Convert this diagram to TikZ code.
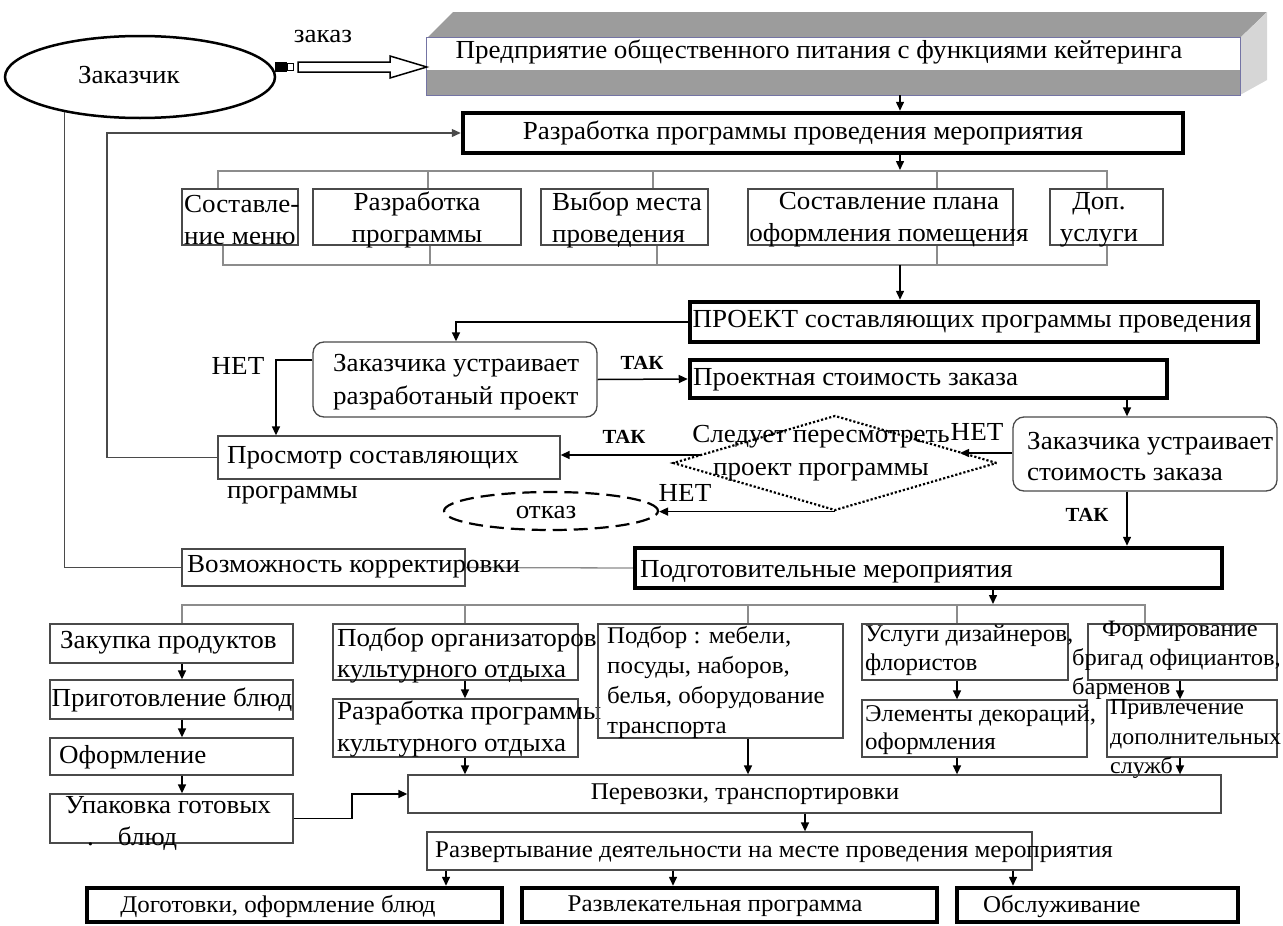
\documentclass[tikz,border=0pt]{standalone}
\usepackage{fontspec}
\setmainfont{Liberation Serif}[FakeStretch=1.04]
\newfontfamily\tnr{Liberation Serif}[FakeStretch=1.04]
\usetikzlibrary{arrows.meta,shapes.geometric,fit,calc}
\definecolor{boxc}{HTML}{4A4A4A}
\definecolor{busc}{HTML}{8C8C8C}
\definecolor{edgec}{HTML}{7474A4}
\definecolor{topc}{HTML}{9C9C9C}
\definecolor{sidec}{HTML}{D6D6D6}
\newcommand{\fsz}[1]{\tnr\fontsize{26}{#1}\selectfont}
\newcommand{\fss}[1]{\tnr\fontsize{24}{#1}\selectfont}
\begin{document}
\begin{tikzpicture}[x=1pt,y=-1pt,
  box/.style={draw=boxc,line width=1.3pt,inner sep=0pt},
  tbox/.style={draw=black,line width=4.5pt,inner sep=0pt},
  rbox/.style={box,rounded corners=11pt},
  t/.style={inner sep=0pt,font=\fsz{30}},
  ts/.style={inner sep=0pt,font=\fss{30}},
  bl/.style={inner sep=0pt,font=\tnr\fontsize{20}{22}\selectfont\bfseries},
  arr/.style={draw=black,line width=1.5pt,-{Triangle[length=9pt,width=8pt]}},
  bus/.style={draw=busc,line width=1.3pt},
  fb/.style={draw=boxc,line width=1.3pt},
]
\useasboundingbox (0,0) rectangle (1283,926);

% ---- customer and enterprise
\node[ellipse,draw,line width=2.5pt,minimum width=270pt,minimum height=82pt,inner sep=0pt] (zak) at (140,77) {};
\node[t] (zakT) at (129,75) {Заказчик};
\node[t] (orderT) at (323,37) {заказ};

\fill[topc] (427,38) -- (453,12) -- (1267,12) -- (1240,38) -- cycle;
\fill[sidec] (1240,38) -- (1267,12) -- (1267,80) -- (1240,95) -- cycle;
\node[fit={(427,38)(1240,95)},inner sep=0pt,fill=topc] (ent) {};
\fill[white] (427,38) rectangle (1240,70);
\draw[edgec,line width=1.3pt] (ent.north west) rectangle (ent.south east);
\node[t] (entT) at (819,52) {Предприятие общественного питания с функциями кейтеринга};

\fill[black] (275,62) rectangle (287,72);
\draw[line width=1pt,fill=white] (287.5,63.5) rectangle (293.5,70.5);
\draw[line width=1.5pt,fill=white,line join=miter] (298,62) -- (390,62) -- (390,56) -- (ent.west |- 0,67) -- (390,78) -- (390,72) -- (298,72) -- cycle;

% ---- development
\node[tbox,fit={(463,113)(1183,153)}] (raz) {};
\node[t] (razT) at (803,133) {Разработка программы проведения мероприятия};
\draw[arr] (ent.south -| 900,0) -- (raz.north -| 900,0);

\node[box,fit={(182,189)(298,245)}] (m1) {};
\node[box,fit={(313,189)(521,245)}] (m2) {};
\node[box,fit={(541,189)(708,245)}] (m3) {};
\node[box,fit={(748,189)(1013,245)}] (m4) {};
\node[box,fit={(1050,189)(1163,245)}] (m5) {};
\node[t,align=left,anchor=west,font=\fsz{32}] (m1T) at (184,220) {Составле-\\ние меню};
\node[t,align=center,font=\fsz{32}] (m2T) at (417,220) {Разработка\\программы};
\node[t,align=left,anchor=west,font=\fsz{32}] (m3T) at (552,220) {Выбор места\\проведения};
\node[t,align=center,font=\fsz{32}] (m4T) at (889,220) {Составление плана\\оформления помещения};
\node[t,align=center,font=\fsz{32}] (m5T) at (1099,220) {Доп.\\услуги};

\draw[arr] (raz.south -| 900,0) -- (900,170);
\draw[bus] (m1.north -| 218,0) -- (218,171) -- (1107,171) -- (m5.north -| 1107,0);
\draw[bus] (m2.north -| 428,0) -- (428,171);
\draw[bus] (m3.north -| 653,0) -- (653,171);
\draw[bus] (m4.north -| 937,0) -- (937,171);
\draw[bus] (m1.south -| 223,0) -- (223,265) -- (1107,265) -- (m5.south -| 1107,0);
\draw[bus] (m2.south -| 430,0) -- (430,265);
\draw[bus] (m3.south -| 657,0) -- (657,265);
\draw[bus] (m4.south -| 937,0) -- (937,265);

% ---- project
\node[tbox,fit={(690,302)(1258,342)}] (prj) {};
\node[t] (prjT) at (972,322) {ПРОЕКТ составляющих программы проведения};
\coordinate (busB) at (900,265);
\draw[arr] (busB) -- (prj.north -| busB);

\node[rbox,fit={(313,342)(597,417)}] (ok1) {};
\node[t,align=left,anchor=west,font=\fsz{33}] (ok1T) at (333,382) {Заказчика устраивает\\разработаный проект};
\draw[arr] (prj.west) -| (ok1.north -| 456,0);

\node[tbox,fit={(690,360)(1167,398)}] (cost) {};
\node[t,anchor=west] (costT) at (693,380) {Проектная стоимость заказа};
\draw[arr] (ok1.east) -- (cost.west);
\node[bl] (yes1) at (642,363) {ТАК};

\node[box,fit={(218,436)(560,479)}] (view) {};
\node[t,align=left,anchor=west,font=\fsz{35}] (viewT) at (227,475) {Просмотр составляющих\\программы};
\draw[arr] (ok1.west |- 0,360) -| (view.north -| 276,0);
\node[t] (no1) at (238,366) {НЕТ};

\node[rbox,fit={(1013,417)(1277,491)}] (ok2) {};
\node[t,align=left,anchor=west,font=\fsz{31}] (ok2T) at (1027,457) {Заказчика устраивает\\стоимость заказа};
\draw[arr] (cost.south -| 1127,0) -- (ok2.north -| 1127,0);

\node[diamond,draw=black,dotted,line width=2.2pt,minimum width=324pt,minimum height=95pt,inner sep=0pt] (dia) at (835,463) {};
\node[t,align=center,font=\fsz{33}] (diaT) at (821,453) {Следует пересмотреть\\проект программы};
\coordinate (diaE) at (960,453);
\coordinate (diaW) at (702,455);
\draw[arr] (ok2.west |- diaE) -- (diaE);
\node[t] (no2) at (977,432) {НЕТ};
\draw[arr] (diaW) -- (view.east |- diaW);
\node[bl] (yes2) at (624,437) {ТАК};

\node[ellipse,draw,dash pattern=on 14pt off 7pt,line width=2.2pt,minimum width=214pt,minimum height=38pt,inner sep=0pt] (otk) at (551,511) {};
\node[t] (otkT) at (546,512) {отказ};
\draw[arr] (dia.south) -- (otk.east |- dia.south);
\node[t] (no3) at (685,493) {НЕТ};

% ---- preparation
\node[tbox,fit={(635,548)(1222,588)}] (prep) {};
\node[t,anchor=west] (prepT) at (640,572) {Подготовительные мероприятия};
\draw[arr] (ok2.south -| 1127,0) -- (prep.north -| 1127,0);
\node[bl] (yes3) at (1087,515) {ТАК};

\node[box,fit={(182,549)(465,586)}] (vk) {};
\draw[bus] (vk.east) -- (prep.west);
\node[t,anchor=west] (vkT) at (187,567) {Возможность корректировки};

\draw[fb,-{Triangle[length=9pt,width=8pt]}] (view.west) -| (107,133) -- (raz.west);
\draw[fb] (zak.205) |- (vk.west);

% ---- lower boxes
\node[box,fit={(50,624)(293,663)}] (c1) {};
\node[box,fit={(50,680)(293,719)}] (c2) {};
\node[box,fit={(50,738)(293,775)}] (c3) {};
\node[box,fit={(50,794)(293,843)}] (c4) {};
\node[t,anchor=west] (c1T) at (60,643) {Закупка продуктов};
\node[t] (c2T) at (172,700) {Приготовление блюд};
\node[t,anchor=west] (c3T) at (59,757) {Оформление};
\node[t,align=left,anchor=west,font=\fsz{32}] (c4T) at (65,823) {Упаковка готовых\\\hspace*{22pt}.\hspace*{24pt}блюд};

\node[box,fit={(333,624)(578,680)}] (o1) {};
\node[box,fit={(333,699)(578,757)}] (o2) {};
\node[t,align=left,anchor=west,font=\fsz{31}] (o1T) at (337,655) {Подбор организаторов\\культурного отдыха};
\node[t,align=left,anchor=west,font=\fsz{32}] (o2T) at (337,729) {Разработка программы\\культурного отдыха};

\node[box,fit={(598,624)(843,738)}] (f1) {};
\node[ts,align=left,anchor=west,font=\fss{30}] (f1T) at (607,682) {Подбор : мебели,\\посуды, наборов,\\белья, оборудование\\транспорта};

\node[box,fit={(862,624)(1068,680)}] (d1) {};
\node[box,fit={(862,700)(1087,757)}] (d2) {};
\node[ts,align=left,anchor=west,font=\fss{29}] (d1T) at (865,650) {Услуги дизайнеров,\\флористов};
\node[ts,align=left,anchor=west,font=\fss{28}] (d2T) at (865,730) {Элементы декораций,\\оформления};

\node[box,fit={(1088,624)(1277,680)}] (s1) {};
\node[box,fit={(1107,700)(1277,757)}] (s2) {};
\node[ts,align=left,anchor=west,font=\tnr\fontsize{23.5}{29}\selectfont] (s1T) at (1072,660) {\hspace*{30pt}Формирование\\бригад официантов,\\барменов};
\node[ts,align=left,anchor=west,font=\tnr\fontsize{23}{29.5}\selectfont] (s2T) at (1110,739) {Привлечение\\дополнительных\\служб};

\draw[arr] (prep.south -| 993,0) -- (993,604);
\draw[bus] (c1.north -| 182,0) -- (182,605) -- (1145,605) -- (s1.north -| 1145,0);
\draw[bus] (o1.north -| 465,0) -- (465,605);
\draw[bus] (f1.north -| 748,0) -- (748,605);
\draw[bus] (d1.north -| 957,0) -- (957,605);

\draw[arr] (c1.south -| 182,0) -- (c2.north -| 182,0);
\draw[arr] (c2.south -| 182,0) -- (c3.north -| 182,0);
\draw[arr] (c3.south -| 182,0) -- (c4.north -| 182,0);

\node[box,fit={(408,775)(1221,813)}] (per) {};
\node[ts] (perT) at (745,794) {Перевозки, транспортировки};

\draw[arr] (c4.east) -- (352,818.5) |- (per.west);
\draw[arr] (o1.south -| 465,0) -- (o2.north -| 465,0);
\draw[arr] (o2.south -| 465,0) -- (per.north -| 465,0);
\draw[arr] (f1.south -| 748,0) -- (per.north -| 748,0);
\draw[arr] (d1.south -| 957,0) -- (d2.north -| 957,0);
\draw[arr] (d2.south -| 957,0) -- (per.north -| 957,0);
\draw[arr] (s1.south -| 1180,0) -- (s2.north -| 1180,0);
\draw[arr] (s2.south -| 1180,0) -- (per.north -| 1180,0);

\node[box,fit={(427,832)(1032,870)}] (rz) {};
\node[ts,anchor=west] (rzT) at (435,852) {Развертывание деятельности на месте проведения мероприятия};
\draw[arr] (per.south -| 805,0) -- (rz.north -| 805,0);

\node[tbox,fit={(87,888)(502,922)}] (fin1) {};
\node[tbox,fit={(522,888)(937,922)}] (fin2) {};
\node[tbox,fit={(957,888)(1238,922)}] (fin3) {};
\node[ts] (fin1T) at (278,906) {Доготовки, оформление блюд};
\node[ts] (fin2T) at (715,906) {Развлекательная программа};
\node[ts,anchor=west] (fin3T) at (983,906) {Обслуживание};
\draw[arr] (rz.south -| 446,0) -- (fin1.north -| 446,0);
\draw[arr] (rz.south -| 673,0) -- (fin2.north -| 673,0);
\draw[arr] (rz.south -| 1013,0) -- (fin3.north -| 1013,0);
\end{tikzpicture}
\end{document}
